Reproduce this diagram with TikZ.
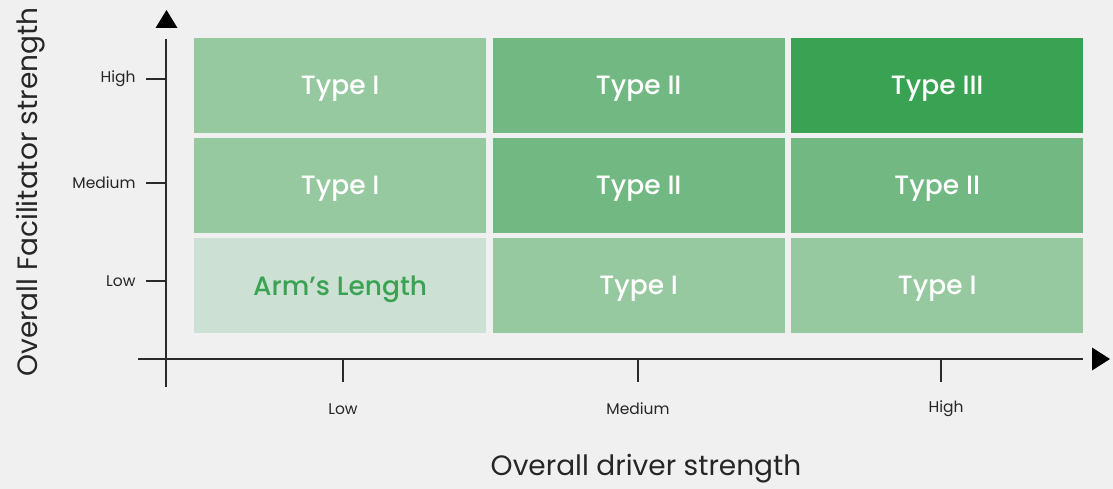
\documentclass[tikz,border=0pt]{standalone}
\usepackage{fontspec}
\setmainfont{Poppins}
\newfontfamily\cellfont{Poppins Medium}
\definecolor{bg}{HTML}{F0F0F0}
\definecolor{tone}{HTML}{96C9A0}
\definecolor{ttwo}{HTML}{72B883}
\definecolor{tthree}{HTML}{3AA353}
\definecolor{tarm}{HTML}{CCE1D3}
\definecolor{axis}{HTML}{2A2A2A}
\begin{document}
\begin{tikzpicture}[x=1pt,y=-1pt,
  cell/.style={draw=none,minimum width=292pt,minimum height=95pt,anchor=north west,inner sep=0pt},
  ctext/.style={text=white,font=\cellfont\fontsize{26.5}{30}\selectfont,yshift=-3.5pt,inner sep=0pt},
  ax/.style={draw=axis,line width=2.2pt},
  tick/.style={draw=axis,line width=2.2pt},
  ticklab/.style={font=\fontsize{15.5}{18}\selectfont,text=black!85},
  axtitle/.style={font=\fontsize{28}{32}\selectfont,text=black!85},
  tri/.style={fill=black,draw=none}]
\fill[bg] (0,0) rectangle (1113,489);
\useasboundingbox (0,0) rectangle (1113,489);
% cells
\node[cell,fill=tone]   (c11) at (194,38)   {};
\node[cell,fill=ttwo]   (c12) at (492.5,38) {};
\node[cell,fill=tthree] (c13) at (791,38)   {};
\node[cell,fill=tone]   (c21) at (194,138)  {};
\node[cell,fill=ttwo]   (c22) at (492.5,138){};
\node[cell,fill=ttwo]   (c23) at (791,138)  {};
\node[cell,fill=tarm]   (c31) at (194,238)  {};
\node[cell,fill=tone]   (c32) at (492.5,238){};
\node[cell,fill=tone]   (c33) at (791,238)  {};
\node[ctext] (t11) at (c11.center) {Type I};
\node[ctext] (t12) at (c12.center) {Type II};
\node[ctext] (t13) at (c13.center) {Type III};
\node[ctext] (t21) at (c21.center) {Type I};
\node[ctext] (t22) at (c22.center) {Type II};
\node[ctext] (t23) at (c23.center) {Type II};
\node[ctext,text=tthree] (t31) at (c31.center) {Arm’s Length};
\node[ctext] (t32) at (c32.center) {Type I};
\node[ctext] (t33) at (c33.center) {Type I};
% axes
\coordinate (ytop) at (166,39);
\coordinate (ybot) at (166,387);
\coordinate (xl) at (138,359);
\coordinate (xr) at (1083,359);
\draw[ax] (ybot) -- (ytop);
\draw[ax] (xl) -- (xr);
\fill[tri] (155.5,28) -- (177.5,28) -- (166.5,10) -- cycle;
\fill[tri] (1092,347.5) -- (1092,370.5) -- (1110,359) -- cycle;
% y ticks
\coordinate (yh) at (166,79);
\coordinate (ym) at (166,183);
\coordinate (yl) at (166,281);
\draw[tick] (yh) -- ++(-20,0) node[left=6pt,ticklab] (lyh) {High};
\draw[tick] (ym) -- ++(-20,0) node[left=6pt,ticklab] (lym) {Medium};
\draw[tick] (yl) -- ++(-20,0) node[left=6pt,ticklab] (lyl) {Low};
% x ticks
\coordinate (xlo) at (343,359);
\coordinate (xme) at (638,359);
\coordinate (xhi) at (941,359);
\draw[tick] (xlo) -- ++(0,23);
\draw[tick] (xme) -- ++(0,23);
\draw[tick] (xhi) -- ++(0,23);
\node[ticklab] (lxl) at (343,409) {Low};
\node[ticklab] (lxm) at (638,409) {Medium};
\node[ticklab] (lxh) at (946,409) {High};
% titles
\node[axtitle] (tx) at (646,469) {Overall driver strength};
\node[axtitle,rotate=90] (ty) at (31,192) {Overall Facilitator strength};
\end{tikzpicture}
\end{document}
